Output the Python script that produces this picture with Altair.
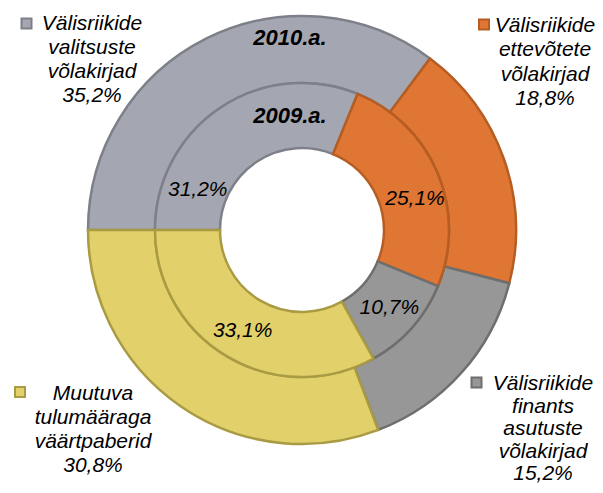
import math
import altair as alt
import pandas as pd

# ---- data ----
categories = [
    "Välisriikide valitsuste võlakirjad",
    "Välisriikide ettevõtete võlakirjad",
    "Välisriikide finants asutuste võlakirjad",
    "Muutuva tulumääraga väärtpaberid",
]
label_lines = [
    ["Välisriikide", "valitsuste", "võlakirjad"],
    ["Välisriikide", "ettevõtete", "võlakirjad"],
    ["Välisriikide", "finants", "asutuste", "võlakirjad"],
    ["Muutuva", "tulumääraga", "väärtpaberid"],
]
values_2010 = [35.2, 18.8, 15.2, 30.8]
values_2009 = [31.2, 25.1, 10.7, 33.1]
years = ["2010.a.", "2009.a."]

fills = ["#A4A7B1", "#E07634", "#979797", "#E2D16A"]
strokes = ["#7D8089", "#B55D22", "#6E6E6E", "#A99B43"]

FONT = "Liberation Sans"
CX, CY = 294, 222


def fmt(v):
    return f"{v:.1f}".replace(".", ",") + "%"


def frame(vals):
    return pd.DataFrame({
        "cat": categories,
        "idx": list(range(len(categories))),
        "value": vals,
        "label": [fmt(v) for v in vals],
        "corner": ["\n".join(l + [fmt(v)]) for l, v in zip(label_lines, vals)],
    })


df10 = frame(values_2010)
df09 = frame(values_2009)

fill_enc = alt.Fill("cat:N", scale=alt.Scale(domain=categories, range=fills), legend=None)
stroke_enc = alt.Stroke("cat:N", scale=alt.Scale(domain=categories, range=strokes), legend=None)


def stacked(df):
    return alt.Chart(df).transform_stack(
        stack="value", groupby=[], as_=["v0", "v1"],
        sort=[alt.SortField(field="idx", order="ascending")],
    ).transform_calculate(mid="(datum.v0 + datum.v1) / 2")


def theta_scale(df):
    return alt.Scale(domain=[0, float(df["value"].sum())],
                     range=[-math.pi / 2, 3 * math.pi / 2])


def ring(df, r_out, r_in):
    return stacked(df).mark_arc(outerRadius=r_out, innerRadius=r_in, strokeWidth=2.5).encode(
        theta=alt.Theta("v0:Q", scale=theta_scale(df)),
        theta2="v1:Q",
        fill=fill_enc,
        stroke=stroke_enc,
        x=alt.value(CX),
        y=alt.value(CY),
    )


def ring_label(df, idxs, radius, dx=0, dy=0):
    cond = " || ".join(f"datum.idx == {i}" for i in idxs)
    return stacked(df).transform_filter(cond).mark_text(
        radius=radius, dx=dx, dy=dy, font=FONT, fontSize=21, fontStyle="italic",
        color="black", align="center", baseline="middle",
    ).encode(
        theta=alt.Theta("mid:Q", scale=theta_scale(df)),
        text="label:N",
        x=alt.value(CX),
        y=alt.value(CY),
    )


layers = [
    ring(df10, 214, 147),
    ring(df09, 147, 82),
    ring_label(df09, [2, 3], 117),
    ring_label(df09, [0], 117, dx=-39, dy=57),
    ring_label(df09, [1], 117, dx=5, dy=14),
]

# year titles
years_df = pd.DataFrame({"year": years})
year_pos = [(282, 37), (282, 115)]
for yname, (px, py) in zip(years, year_pos):
    layers.append(
        alt.Chart(years_df).transform_filter(f"datum.year == '{yname}'").mark_text(
            font=FONT, fontSize=22, fontStyle="italic", fontWeight="bold",
            color="black", align="center", baseline="alphabetic",
        ).encode(text="year:N", x=alt.value(px), y=alt.value(py))
    )

# corner legend-like labels (2010 values)
corner_text = [(84, 22), (537, 24), (535, 382), (85, 392)]
corner_lh = [24, 24.3, 22.5, 24]
corner_mark = [(18.5, 15.5), (476, 16.5), (468.5, 374.5), (12, 384)]
for i in range(len(categories)):
    tx, ty = corner_text[i]
    mx, my = corner_mark[i]
    base = alt.Chart(df10).transform_filter(f"datum.idx == {i}")
    layers.append(
        base.mark_text(
            lineBreak="\n", lineHeight=corner_lh[i], font=FONT, fontSize=21, fontStyle="italic",
            color="black", align="center", baseline="alphabetic",
        ).encode(text="corner:N", x=alt.value(tx), y=alt.value(ty))
    )
    layers.append(
        base.mark_square(size=100, strokeWidth=2, opacity=1).encode(
            fill=fill_enc, stroke=stroke_enc, x=alt.value(mx), y=alt.value(my)
        )
    )

chart = alt.layer(*layers).resolve_scale(theta="independent").properties(
    width=587, height=477, padding=0, autosize="none",
).configure_view(stroke=None)

chart.save("out.html", embed_options={"renderer": "svg", "actions": False})
